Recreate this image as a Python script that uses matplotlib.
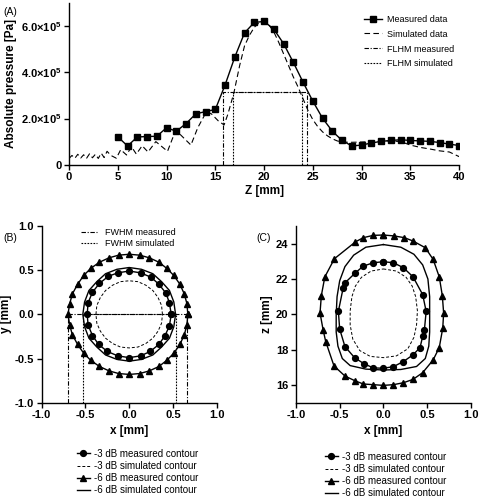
import numpy as np
import matplotlib
matplotlib.use("Agg")
import matplotlib.pyplot as plt
from matplotlib.ticker import FormatStrFormatter

plt.rcParams['font.family'] = ['Liberation Sans', 'DejaVu Sans']
plt.rcParams['mathtext.fontset'] = 'custom'
plt.rcParams['mathtext.rm'] = 'Liberation Sans'
plt.rcParams['mathtext.bf'] = 'Liberation Sans:bold'
plt.rcParams['axes.linewidth'] = 1.0
plt.rcParams['xtick.direction'] = 'out'
plt.rcParams['ytick.direction'] = 'out'

# ---- (A) axial pressure profile ----
z_meas = [5, 6, 7, 8, 9, 10, 11, 12, 13, 14, 15, 16, 17, 18, 19, 20, 21, 22, 23, 24,
          25, 26, 27, 28, 29, 30, 31, 32, 33, 34, 35, 36, 37, 38, 39, 40]
p_meas = [1.21, 0.81, 1.20, 1.22, 1.23, 1.60, 1.45, 1.78, 2.20, 2.30, 2.39, 3.45, 4.66, 5.71,
          6.16, 6.20, 5.87, 5.24, 4.43, 3.57, 2.75, 2.01, 1.45, 1.05, 0.81, 0.85, 0.94, 1.01,
          1.05, 1.08, 1.05, 1.03, 1.01, 0.96, 0.89, 0.83]

z_sim = [0.0, 0.3, 0.6, 0.9, 1.2, 1.5, 1.8, 2.1, 2.4, 2.7, 3.0, 3.3, 3.6, 3.9, 4.3, 4.85,
         5.3, 5.9, 6.4, 6.9, 7.5, 8.1, 8.9, 10.1, 10.9, 11.3, 12.5, 13.2, 14.1, 14.6, 15.3,
         15.9, 16.3, 16.9, 17.5, 18.0, 18.5, 19.0, 19.5, 20.0, 20.5, 21.0, 21.5, 22.0, 22.5,
         23.0, 23.5, 24.0, 24.5, 25.0, 25.5, 26.0, 26.5, 27.0, 27.5, 28.0, 29.0, 30.0, 31.0,
         32.0, 33.0, 34.0, 35.0, 36.0, 37.0, 38.0, 39.0, 40.0]
p_sim = [0.27, 0.40, 0.28, 0.45, 0.29, 0.43, 0.28, 0.47, 0.30, 0.45, 0.27, 0.50, 0.31, 0.58,
         0.40, 0.28, 0.65, 0.42, 0.78, 0.46, 0.82, 0.55, 1.00, 0.58, 1.45, 1.35, 0.85, 1.60,
         2.30, 2.20, 1.90, 1.72, 2.20, 3.10, 4.30, 5.15, 5.60, 5.95, 6.15, 6.20, 6.05, 5.75,
         5.30, 4.80, 4.30, 3.80, 3.35, 2.85, 2.35, 1.95, 1.65, 1.42, 1.25, 1.12, 1.03, 0.98,
         0.97, 0.98, 1.00, 1.02, 1.03, 1.00, 0.85, 0.75, 0.68, 0.60, 0.55, 0.35]

flhm_level = 3.15
flhm_meas = [15.8, 24.4]
flhm_sim = [16.85, 23.87]

# ---- (B) xy contours ----
b3m_x = [0.48, 0.46, 0.42, 0.34, 0.25, 0.13, 0.00, -0.13, -0.24, -0.34, -0.42, -0.47, -0.48,
         -0.47, -0.42, -0.35, -0.25, -0.13, 0.00, 0.13, 0.24, 0.34, 0.41, 0.46, 0.48]
b3m_y = [0.00, 0.13, 0.24, 0.34, 0.42, 0.47, 0.49, 0.47, 0.43, 0.35, 0.25, 0.13, 0.00,
         -0.12, -0.24, -0.34, -0.42, -0.47, -0.49, -0.47, -0.42, -0.34, -0.24, -0.13, 0.00]

b3s_x = [0.38, 0.37, 0.33, 0.27, 0.19, 0.10, 0.00, -0.10, -0.19, -0.27, -0.33, -0.37, -0.38,
         -0.37, -0.33, -0.27, -0.19, -0.10, 0.00, 0.10, 0.19, 0.27, 0.33, 0.37, 0.38]
b3s_y = [0.00, 0.10, 0.19, 0.27, 0.33, 0.37, 0.38, 0.37, 0.33, 0.27, 0.19, 0.10, 0.00,
         -0.10, -0.19, -0.27, -0.33, -0.37, -0.38, -0.37, -0.33, -0.27, -0.19, -0.10, 0.00]

b6m_x = [0.67, 0.66, 0.63, 0.58, 0.51, 0.43, 0.34, 0.23, 0.12, 0.00, -0.12, -0.23, -0.34,
         -0.44, -0.52, -0.59, -0.65, -0.68, -0.70, -0.68, -0.65, -0.59, -0.52, -0.44, -0.34,
         -0.23, -0.12, 0.00, 0.12, 0.23, 0.34, 0.43, 0.51, 0.58, 0.63, 0.66, 0.67]
b6m_y = [0.00, 0.12, 0.23, 0.34, 0.44, 0.52, 0.59, 0.64, 0.67, 0.68, 0.67, 0.64, 0.59,
         0.52, 0.44, 0.34, 0.23, 0.12, 0.00, -0.12, -0.23, -0.34, -0.44, -0.52, -0.59,
         -0.64, -0.67, -0.68, -0.67, -0.64, -0.59, -0.52, -0.44, -0.34, -0.23, -0.12, 0.00]

b6s_x = [0.53, 0.51, 0.46, 0.37, 0.27, 0.14, 0.00, -0.14, -0.27, -0.37, -0.46, -0.51, -0.53,
         -0.51, -0.46, -0.37, -0.27, -0.14, 0.00, 0.14, 0.27, 0.37, 0.46, 0.51, 0.53]
b6s_y = [0.00, 0.14, 0.27, 0.37, 0.46, 0.51, 0.53, 0.51, 0.46, 0.37, 0.27, 0.14, 0.00,
         -0.14, -0.27, -0.37, -0.46, -0.51, -0.53, -0.51, -0.46, -0.37, -0.27, -0.14, 0.00]

fwhm_meas_xy = [-0.70, 0.66]
fwhm_sim_xy = [-0.53, 0.54]

# ---- (C) xz contours ----
c6m_x = [0.00, 0.12, 0.24, 0.34, 0.48, 0.57, 0.64, 0.675, 0.69, 0.68, 0.64, 0.57, 0.45, 0.34,
         0.23, 0.115, 0.00, -0.115, -0.23, -0.32, -0.44, -0.565, -0.66, -0.69, -0.725, -0.71,
         -0.67, -0.56, -0.32, -0.23, -0.115, 0.00]
c6m_z = [24.49, 24.44, 24.34, 24.15, 23.77, 23.11, 22.12, 21.06, 20.08, 19.22, 18.12, 17.42,
         16.70, 16.32, 16.13, 16.02, 15.98, 16.02, 16.06, 16.23, 16.51, 17.08, 18.46, 19.13,
         20.08, 21.06, 22.12, 23.15, 24.10, 24.34, 24.47, 24.49]

c6s_x = [0.00, 0.20, 0.35, 0.45, 0.51, 0.53, 0.53, 0.53, 0.52, 0.48, 0.38, 0.20, 0.00, -0.20,
         -0.38, -0.47, -0.52, -0.54, -0.54, -0.53, -0.50, -0.44, -0.34, -0.20, 0.00]
c6s_z = [23.95, 23.80, 23.40, 22.80, 22.00, 21.00, 20.00, 19.00, 18.20, 17.50, 17.05, 16.88,
         16.85, 16.90, 17.10, 17.50, 18.20, 19.00, 20.00, 21.00, 21.90, 22.70, 23.35, 23.80,
         23.95]

c3m_x = [0.00, 0.115, 0.23, 0.34, 0.45, 0.49, 0.47, 0.45, 0.42, 0.34, 0.23, 0.115, 0.00,
         -0.115, -0.22, -0.33, -0.44, -0.50, -0.515, -0.46, -0.44, -0.32, -0.23, -0.115, 0.00]
c3m_z = [22.98, 22.92, 22.64, 22.12, 21.12, 20.17, 19.13, 18.75, 18.12, 17.71, 17.33, 17.04,
         16.95, 16.97, 17.20, 17.55, 18.18, 19.17, 20.17, 21.50, 21.78, 22.35, 22.73, 22.92,
         22.98]

c3s_x = [0.00, 0.15, 0.26, 0.33, 0.37, 0.39, 0.38, 0.35, 0.28, 0.15, 0.00, -0.15, -0.27,
         -0.35, -0.38, -0.38, -0.36, -0.32, -0.25, -0.14, 0.00]
c3s_z = [22.57, 22.45, 22.10, 21.60, 21.00, 20.20, 19.40, 18.70, 18.05, 17.65, 17.55, 17.62,
         17.95, 18.60, 19.40, 20.20, 21.00, 21.60, 22.10, 22.45, 22.57]

fig = plt.figure(figsize=(4.81, 5.0), dpi=100)

tick_fs = 8
lab_fs = 8.5
ms = 4.2
dash_dot = (4, 1.5, 1, 1.5)
dotted = (1.5, 1.2)


def style(ax):
    for s in ['top', 'right']:
        ax.spines[s].set_visible(False)
    ax.tick_params(length=3.5, width=1, labelsize=tick_fs, pad=2)
    for t in ax.get_yticklabels() + ax.get_xticklabels():
        t.set_fontweight('bold')


# (A)
axA = fig.add_axes([0.1435, 0.6706, 0.811, 0.3234])
axA.plot(z_meas, p_meas, '-', color='black', lw=1.0, marker='s', ms=ms - 0.4, label='Measured data')
axA.plot(z_sim, p_sim, color='black', lw=0.8, dashes=(5, 3), label='Simulated data')
axA.plot([flhm_meas[0], flhm_meas[0], flhm_meas[1], flhm_meas[1]],
         [0, flhm_level, flhm_level, 0], color='black', lw=0.8, dashes=dash_dot,
         label='FLHM measured')
axA.plot([flhm_sim[0], flhm_sim[0], flhm_sim[1], flhm_sim[1]],
         [0, flhm_level, flhm_level, 0], color='black', lw=0.8, dashes=dotted,
         label='FLHM simulated')
axA.set_xlim(0, 40)
axA.set_ylim(0, 7)
axA.set_xticks(range(0, 41, 5))
axA.set_yticks([0, 2, 4, 6])
axA.set_yticklabels(['0', r'2.0×10$^{\mathbf{5}}$', r'4.0×10$^{\mathbf{5}}$',
                     r'6.0×10$^{\mathbf{5}}$'])
style(axA)
axA.set_xlabel('Z [mm]', fontsize=lab_fs, fontweight='bold', labelpad=2)
axA.set_ylabel('Absolute pressure [Pa]', fontsize=lab_fs, fontweight='bold', labelpad=3)
axA.legend(loc='upper left', bbox_to_anchor=(0.745, 0.955), frameon=False, fontsize=6.5,
           handlelength=2.0, labelspacing=0.65, borderpad=0, handletextpad=0.5)

# (B)
axB = fig.add_axes([0.0867, 0.1946, 0.3638, 0.3534])
axB.plot(b3m_x, b3m_y, '-', color='black', lw=1.0, marker='o', ms=ms)
axB.plot(b3s_x, b3s_y, color='black', lw=0.7, dashes=(3, 2))
axB.plot(b6m_x, b6m_y, '-', color='black', lw=1.0, marker='^', ms=ms)
axB.plot(b6s_x, b6s_y, '-', color='black', lw=1.0)
axB.plot([fwhm_meas_xy[0], fwhm_meas_xy[0], fwhm_meas_xy[1], fwhm_meas_xy[1]],
         [-1, 0, 0, -1], color='black', lw=0.8, dashes=dash_dot, label='FWHM measured')
axB.plot([fwhm_sim_xy[0], fwhm_sim_xy[0], fwhm_sim_xy[1], fwhm_sim_xy[1]],
         [-1, 0, 0, -1], color='black', lw=0.8, dashes=dotted, label='FWHM simulated')
axB.set_xlim(-1, 1)
axB.set_ylim(-1, 1)
axB.set_xticks([-1.0, -0.5, 0.0, 0.5, 1.0])
axB.set_yticks([-1.0, -0.5, 0.0, 0.5, 1.0])
axB.xaxis.set_major_formatter(FormatStrFormatter('%.1f'))
axB.yaxis.set_major_formatter(FormatStrFormatter('%.1f'))
style(axB)
axB.set_xlabel('x [mm]', fontsize=lab_fs, fontweight='bold', labelpad=3)
axB.set_ylabel('y [mm]', fontsize=lab_fs, fontweight='bold', labelpad=2)
axB.legend(loc='upper left', bbox_to_anchor=(0.2, 1.015), frameon=False, fontsize=6.5,
           handlelength=1.8, labelspacing=0.25, borderpad=0, handletextpad=0.8)

# (C)
axC = fig.add_axes([0.6154, 0.1946, 0.3632, 0.3534])
axC.plot(c3m_x, c3m_z, '-', color='black', lw=1.0, marker='o', ms=ms)
axC.plot(c3s_x, c3s_z, color='black', lw=0.7, dashes=(3, 2))
axC.plot(c6m_x, c6m_z, '-', color='black', lw=1.0, marker='^', ms=ms)
axC.plot(c6s_x, c6s_z, '-', color='black', lw=1.0)
axC.set_xlim(-1, 1)
axC.set_ylim(15, 25)
axC.set_xticks([-1.0, -0.5, 0.0, 0.5, 1.0])
axC.set_yticks([16, 18, 20, 22, 24])
axC.xaxis.set_major_formatter(FormatStrFormatter('%.1f'))
style(axC)
axC.set_xlabel('x [mm]', fontsize=lab_fs, fontweight='bold', labelpad=3)
axC.set_ylabel('z [mm]', fontsize=lab_fs, fontweight='bold', labelpad=2)

# contour legends below (B) and (C)
h3m, = axB.plot([], [], '-', color='black', lw=1.0, marker='o', ms=ms)
h3s, = axB.plot([], [], color='black', lw=0.7, dashes=(3, 2))
h6m, = axB.plot([], [], '-', color='black', lw=1.0, marker='^', ms=ms)
h6s, = axB.plot([], [], '-', color='black', lw=1.0)
handles = [h3m, h3s, h6m, h6s]
labels = ['-3 dB measured contour', '-3 dB simulated contour',
          '-6 dB measured contour', '-6 dB simulated contour']
leg_kw = dict(frameon=False, fontsize=7, handlelength=1.3, labelspacing=0.22,
              borderpad=0, handletextpad=0.45, loc='upper left')
fig.legend(handles, labels, bbox_to_anchor=(72 / 481, 1 - 444 / 500), **leg_kw)
fig.legend(handles, labels, bbox_to_anchor=(320 / 481, 1 - 447 / 500), **leg_kw)

fig.text(0.008, 0.976, '(A)', fontsize=7.5, va='center')
fig.text(0.008, 0.524, '(B)', fontsize=7.5, va='center')
fig.text(0.532, 0.524, '(C)', fontsize=7.5, va='center')

fig.savefig('out.png', dpi=100)
